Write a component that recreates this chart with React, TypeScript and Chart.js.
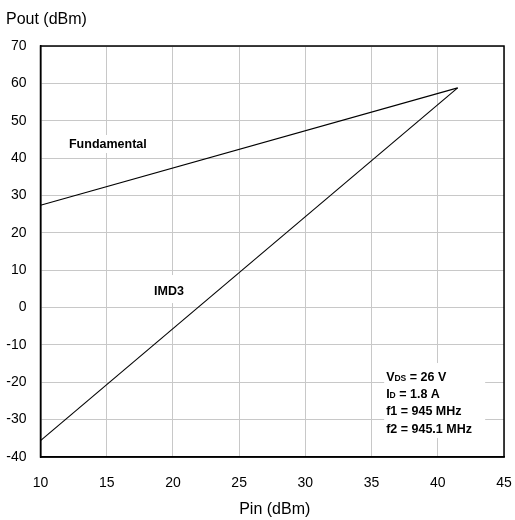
import React, { useEffect, useRef } from "react";
import { Chart, registerables } from "chart.js";

Chart.register(...registerables);

const pinDbm = [10, 41.5];
const fundamentalPout = [27.4, 58.8];
const imd3Pout = [-35.6, 58.8];
const xTicks = { min: 10, max: 45, step: 5 };
const yTicks = { min: -40, max: 70, step: 10 };
const yTitle = "Pout (dBm)";
const xTitle = "Pin (dBm)";
const FONT = "'Liberation Sans', Arial, sans-serif";
const LABEL_FONT = `bold 12.5px ${FONT}`;

const textPlugin = {
  id: "texts",
  beforeDatasetsDraw(chart: any) {
    const { ctx, scales } = chart;
    const xs = scales.x;
    const ys = scales.y;
    ctx.save();
    ctx.fillStyle = "#ffffff";
    ctx.font = LABEL_FONT;
    const fx = xs.getPixelForValue(12.15);
    const fy = ys.getPixelForValue(42.7);
    ctx.fillRect(fx - 4, fy - 13, ctx.measureText("Fundamental").width + 8, 18);
    const ix = xs.getPixelForValue(18.57);
    const iy = ys.getPixelForValue(3.35);
    ctx.fillRect(ix - 6, iy - 20, ctx.measureText("IMD3").width + 12, 28);
    const bx = xs.getPixelForValue(35.95);
    const by = ys.getPixelForValue(-14.85);
    ctx.fillRect(bx, by, 101, 75);
    ctx.restore();
  },
  afterDraw(chart: any) {
    const { ctx, chartArea, scales } = chart;
    const xs = scales.x;
    const ys = scales.y;
    ctx.save();
    ctx.strokeStyle = "#000";
    ctx.lineWidth = 1.5;
    ctx.strokeRect(chartArea.left, chartArea.top, chartArea.right - chartArea.left, chartArea.bottom - chartArea.top);
    ctx.fillStyle = "#000";
    ctx.textBaseline = "alphabetic";
    ctx.font = `16px ${FONT}`;
    ctx.textAlign = "left";
    ctx.fillText(yTitle, 6, 24);
    ctx.textAlign = "center";
    ctx.fillText(xTitle, (chartArea.left + chartArea.right) / 2 + 2.5, 514);

    ctx.font = LABEL_FONT;
    ctx.textAlign = "left";
    ctx.fillText("Fundamental", xs.getPixelForValue(12.15), ys.getPixelForValue(42.7));
    ctx.fillText("IMD3", xs.getPixelForValue(18.57), ys.getPixelForValue(3.35));

    const tx = xs.getPixelForValue(36.1);
    const base = ys.getPixelForValue(-19.6);
    const lh = 17.3;
    const sub = (main: string, s: string, rest: string, y: number) => {
      let x = tx;
      ctx.font = LABEL_FONT;
      ctx.fillText(main, x, y);
      x += ctx.measureText(main).width;
      ctx.font = `bold 8.5px ${FONT}`;
      ctx.fillText(s, x, y);
      x += ctx.measureText(s).width;
      ctx.font = LABEL_FONT;
      ctx.fillText(rest, x, y);
    };
    sub("V", "DS", " = 26 V", base);
    sub("I", "D", " = 1.8 A", base + lh);
    ctx.font = LABEL_FONT;
    ctx.fillText("f1 = 945 MHz", tx, base + 2 * lh);
    ctx.fillText("f2 = 945.1 MHz", tx, base + 3 * lh);
    ctx.restore();
  },
};

export default function App() {
  const ref = useRef<HTMLCanvasElement | null>(null);
  useEffect(() => {
    document.body.style.margin = "0";
    const canvas = ref.current!;
    const chart = new Chart(canvas, {
      type: "line",
      data: {
        datasets: [
          {
            label: "Fundamental",
            data: pinDbm.map((x, i) => ({ x, y: fundamentalPout[i] })),
            borderColor: "#000",
            borderWidth: 1.1,
            pointRadius: 0,
            fill: false,
          },
          {
            label: "IMD3",
            data: pinDbm.map((x, i) => ({ x, y: imd3Pout[i] })),
            borderColor: "#000",
            borderWidth: 1.1,
            pointRadius: 0,
            fill: false,
          },
        ],
      },
      options: {
        animation: false,
        responsive: false,
        devicePixelRatio: 1,
        layout: { padding: { top: 46, right: 11, left: 0, bottom: 0 } },
        plugins: { legend: { display: false }, tooltip: { enabled: false }, title: { display: false } },
        scales: {
          x: {
            type: "linear",
            min: xTicks.min,
            max: xTicks.max,
            ticks: { stepSize: xTicks.step, color: "#000", font: { size: 14, family: FONT }, padding: 18, maxRotation: 0 },
            grid: { color: "#c8c8c8", lineWidth: 1, drawTicks: false },
            border: { color: "#000", width: 1.5 },
            afterFit: (s: any) => { s.height = 63; s.paddingLeft = 0; s.paddingRight = 0; },
          },
          y: {
            type: "linear",
            min: yTicks.min,
            max: yTicks.max,
            ticks: { stepSize: yTicks.step, color: "#000", font: { size: 14, family: FONT }, padding: 14 },
            grid: { color: "#c8c8c8", lineWidth: 1, drawTicks: false },
            border: { color: "#000", width: 1.5 },
            afterFit: (s: any) => { s.width = 40.5; s.paddingTop = 0; s.paddingBottom = 0; },
          },
        },
      },
      plugins: [textPlugin],
    } as any);
    return () => chart.destroy();
  }, []);
  return (
    <div style={{ position: "absolute", left: 0, top: 0, width: 515, height: 520, background: "#fff" }}>
      <canvas ref={ref} width={515} height={520} style={{ width: 515, height: 520 }} />
    </div>
  );
}
